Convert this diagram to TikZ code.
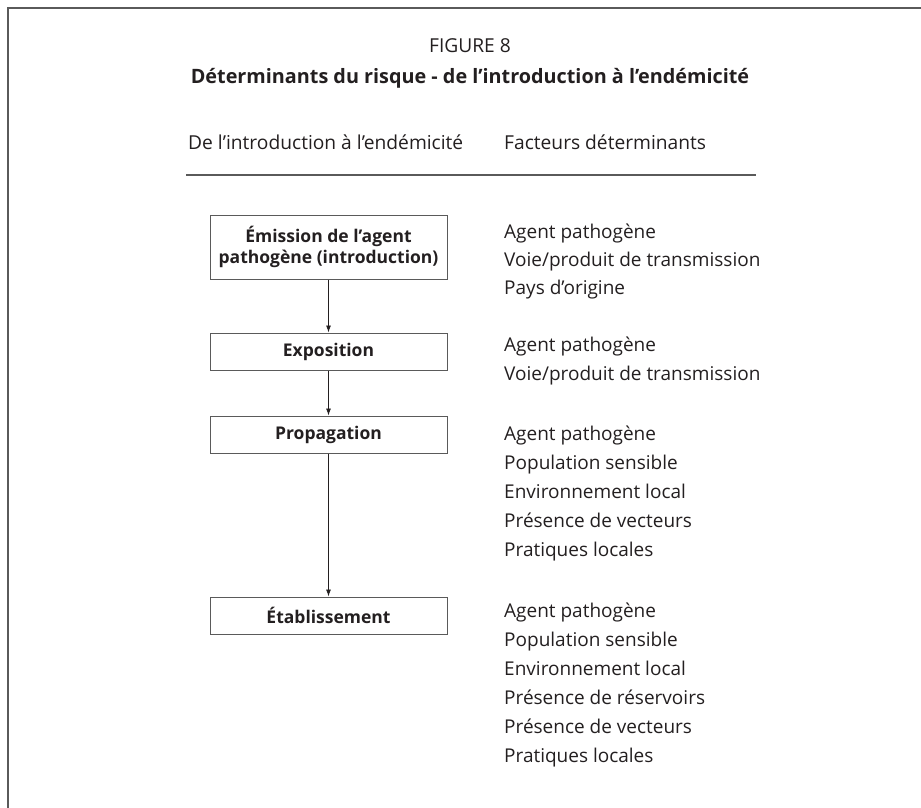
\documentclass[tikz,border=0pt]{standalone}
\usepackage{fontspec}
\setmainfont{Open Sans}
\usetikzlibrary{arrows.meta}
\definecolor{ink}{HTML}{231F20}
\definecolor{linegray}{HTML}{5A5A5A}
\tikzset{
  framelines/.style={draw=linegray, line width=1.4pt},
  rulelines/.style={draw=linegray, line width=1.2pt},
  stage/.style={draw=linegray, line width=1pt, minimum width=237pt, inner sep=0pt, align=center,
     font=\fontsize{17.5}{21}\selectfont\bfseries, text=ink},
  factor/.style={anchor=west, inner sep=0pt, text height=14pt, text depth=4pt,
     font=\fontsize{19}{22}\selectfont, text=ink},
  hdr/.style={anchor=west, inner sep=0pt, text height=14pt, text depth=4pt,
     font=\fontsize{19.2}{22}\selectfont, text=ink},
  flow/.style={draw=ink, line width=0.8pt, -{Latex[length=7pt,width=5pt]}}
}
\begin{document}
\begin{tikzpicture}[x=1pt,y=-1pt]
\useasboundingbox (0,0) rectangle (921,808);
\coordinate (fa) at (8,808);
\coordinate (fb) at (8,8);
\coordinate (fc) at (921,8);
\draw[framelines] (fa) -- (fb) -- (fc);

\node[inner sep=0pt, text height=14pt, text depth=4pt, font=\fontsize{19.2}{22}\selectfont, text=ink] (fig) at (470,48) {FIGURE 8};
\node[inner sep=0pt, text height=14pt, text depth=4pt, font=\fontsize{19.8}{22}\selectfont\bfseries, text=ink] (title) at (470,78) {Déterminants du risque - de l’introduction à l’endémicité};

\node[hdr] (h1) at (188,144) {De l’introduction à l’endémicité};
\node[hdr] (h2) at (504,144) {Facteurs déterminants};
\coordinate (r1) at (186,175);
\coordinate (r2) at (756,175);
\draw[rulelines] (r1) -- (r2);

\node[stage, minimum height=64pt] (s1) at (328.5,247) {Émission de l’agent\\pathogène (introduction)};
\node[stage, minimum height=37pt] (s2) at (328.5,351.5) {Exposition};
\node[stage, minimum height=37pt] (s3) at (328.5,434.5) {Propagation};
\node[stage, minimum height=37pt] (s4) at (328.5,615.5) {Établissement};

\draw[flow] (s1) -- (s2);
\draw[flow] (s2) -- (s3);
\draw[flow] (s3) -- (s4);

\node[factor] (a1) at (504,233) {Agent pathogène};
\node[factor] (a2) at (504,261) {Voie/produit de transmission};
\node[factor] (a3) at (504,289) {Pays d’origine};

\node[factor] (b1) at (504,346) {Agent pathogène};
\node[factor] (b2) at (504,375) {Voie/produit de transmission};

\node[factor] (c1) at (504,435) {Agent pathogène};
\node[factor] (c2) at (504,464) {Population sensible};
\node[factor] (c3) at (504,493) {Environnement local};
\node[factor] (c4) at (504,522) {Présence de vecteurs};
\node[factor] (c5) at (504,551) {Pratiques locales};

\node[factor] (d1) at (504,612) {Agent pathogène};
\node[factor] (d2) at (504,641) {Population sensible};
\node[factor] (d3) at (504,670) {Environnement local};
\node[factor] (d4) at (504,699) {Présence de réservoirs};
\node[factor] (d5) at (504,728) {Présence de vecteurs};
\node[factor] (d6) at (504,757) {Pratiques locales};
\end{tikzpicture}
\end{document}
